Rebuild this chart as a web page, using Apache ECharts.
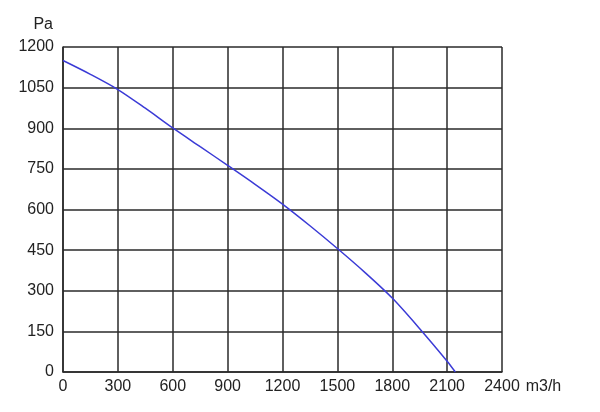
<!DOCTYPE html>
<html>
<head>
<meta charset="utf-8">
<script src="https://cdn.jsdelivr.net/npm/echarts@6/dist/echarts.min.js"></script>
<style>html,body{margin:0;padding:0;background:#fff}#c{width:600px;height:412px}</style>
</head>
<body>
<div id="c"></div>
<script>
var flowValues = [0, 150, 300, 450, 600, 750, 900, 1050, 1200, 1350, 1500, 1650, 1800, 1950, 2100, 2145];
var pressureValues = [1150, 1099, 1043, 974, 901, 832, 763, 693, 620, 540, 456, 368, 273, 160, 40, 0];
var xAxisName = 'm3/h';
var yAxisName = 'Pa';

var chart = echarts.init(document.getElementById('c'), null, {renderer: 'canvas'});
var data = flowValues.map(function (f, i) { return [f, pressureValues[i]]; });
var lineCol = '#2a2a2a';
var plain = function (v) { return String(v); };
var font = {fontFamily: 'Liberation Sans', fontSize: 16, color: '#222'};
chart.setOption({
  animation: false,
  backgroundColor: '#fff',
  grid: {left: 63, top: 47, right: 98, bottom: 40},
  xAxis: {
    type: 'value', min: 0, max: 2400, interval: 300,
    name: xAxisName, nameLocation: 'end', nameGap: 4,
    nameTextStyle: Object.assign({}, font, {verticalAlign: 'top', align: 'left', padding: [7, 0, 0, 0]}),
    axisLine: {show: true, lineStyle: {color: lineCol, width: 1.5}},
    axisTick: {show: false},
    axisLabel: Object.assign({}, font, {margin: 7, formatter: plain}),
    splitLine: {show: true, lineStyle: {color: lineCol, width: 1.5}}
  },
  yAxis: {
    type: 'value', min: 0, max: 1200, interval: 150,
    name: yAxisName, nameLocation: 'end', nameGap: 14,
    nameTextStyle: Object.assign({}, font, {align: 'right', padding: [0, 10, 0, 0]}),
    axisLine: {show: true, lineStyle: {color: lineCol, width: 1.5}},
    axisTick: {show: false},
    axisLabel: Object.assign({}, font, {margin: 9, formatter: plain}),
    splitLine: {show: true, lineStyle: {color: lineCol, width: 1.5}}
  },
  series: [{
    type: 'line', data: data, smooth: 0.3, showSymbol: false,
    lineStyle: {color: '#3b3bd6', width: 1.5}
  }]
});
</script>
</body>
</html>
